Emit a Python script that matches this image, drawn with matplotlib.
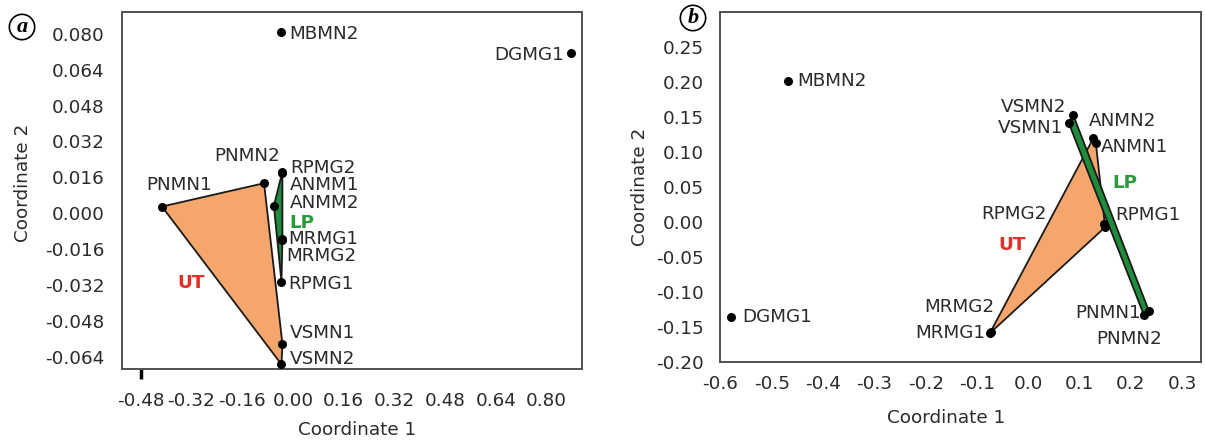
import numpy as np
import matplotlib
matplotlib.use('Agg')
import matplotlib.pyplot as plt
from matplotlib.patches import Polygon

plt.rcParams['font.family'] = ['DejaVu Sans']
plt.rcParams['axes.unicode_minus'] = False

# ---------------- data: panel a ----------------
a_names = ['MBMN2', 'DGMG1', 'PNMN1', 'PNMN2', 'RPMG2', 'ANMM1', 'ANMM2',
           'MRMG1', 'MRMG2', 'RPMG1', 'VSMN1', 'VSMN2']
a_x = [-0.039, 0.876, -0.413, -0.091, -0.033, -0.034, -0.060,
       -0.033, -0.034, -0.036, -0.033, -0.036]
a_y = [0.0806, 0.0713, 0.0030, 0.0134, 0.0185, 0.0180, 0.0033,
       -0.0116, -0.0120, -0.0305, -0.0582, -0.0673]
a_ut = ['PNMN1', 'PNMN2', 'VSMN1', 'VSMN2']
a_lp = ['RPMG2', 'ANMM1', 'ANMM2', 'MRMG1', 'MRMG2', 'RPMG1']
a_xticks = [-0.48, -0.32, -0.16, 0.00, 0.16, 0.32, 0.48, 0.64, 0.80]
a_yticks = [-0.064, -0.048, -0.032, -0.016, 0.000, 0.016, 0.032, 0.048, 0.064, 0.080]

# ---------------- data: panel b ----------------
b_names = ['MBMN2', 'DGMG1', 'VSMN2', 'VSMN1', 'ANMN2', 'ANMN1', 'RPMG2',
           'RPMG1', 'MRMG2', 'MRMG1', 'PNMN1', 'PNMN2']
b_x = [-0.468, -0.579, 0.088, 0.079, 0.127, 0.132, 0.147,
       0.150, -0.073, -0.074, 0.235, 0.226]
b_y = [0.201, -0.136, 0.152, 0.141, 0.119, 0.112, -0.004,
       -0.008, -0.157, -0.159, -0.127, -0.134]
b_ut = ['ANMN2', 'ANMN1', 'RPMG2', 'RPMG1', 'MRMG2', 'MRMG1']
b_lp = ['VSMN2', 'VSMN1', 'PNMN1', 'PNMN2']
b_xticks = [-0.6, -0.5, -0.4, -0.3, -0.2, -0.1, 0.0, 0.1, 0.2, 0.3]
b_yticks = [-0.20, -0.15, -0.10, -0.05, 0.00, 0.05, 0.10, 0.15, 0.20, 0.25]

# ---------------- label layout (pixel offsets, alignment) ----------------
a_lab = {
    'MBMN2': (9, -2, 'left'), 'DGMG1': (-6, -2, 'right'),
    'PNMN2': (16, 27, 'right'), 'PNMN1': (17, 22, 'center'),
    'RPMG2': (8, 4, 'left'), 'ANMM1': (8, -12, 'left'),
    'ANMM2': (16, 3, 'left'), 'MRMG1': (6, 0, 'left'),
    'MRMG2': (4, -16, 'left'), 'RPMG1': (7, -2, 'left'),
    'VSMN1': (7, 11, 'left'), 'VSMN2': (8, 5, 'left'),
}
b_lab = {
    'MBMN2': (9, 0, 'left'), 'DGMG1': (11, 0, 'left'),
    'VSMN2': (-7, 8, 'right'), 'VSMN1': (-5, -5, 'right'),
    'ANMN2': (-4, 17, 'left'), 'ANMN1': (5, -4, 'left'),
    'RPMG2': (-57, 10, 'right'), 'RPMG1': (10, 12, 'left'),
    'MRMG2': (4, 25, 'right'), 'MRMG1': (-5, 0, 'right'),
    'PNMN1': (-8, -2, 'right'), 'PNMN2': (-15, -24, 'center'),
}

ORANGE = '#f5a66c'
GREEN = '#1f8c3b'
TXT = '#2b2b2b'
FS = 13.2


def hull(pts):
    pts = sorted(set(map(tuple, pts)))
    if len(pts) < 3:
        return pts

    def cross(o, a, b):
        return (a[0] - o[0]) * (b[1] - o[1]) - (a[1] - o[1]) * (b[0] - o[0])
    lower, upper = [], []
    for p in pts:
        while len(lower) >= 2 and cross(lower[-2], lower[-1], p) <= 0:
            lower.pop()
        lower.append(p)
    for p in reversed(pts):
        while len(upper) >= 2 and cross(upper[-2], upper[-1], p) <= 0:
            upper.pop()
        upper.append(p)
    return lower[:-1] + upper[:-1]


def panel(ax, names, xs, ys, ut, lp, labs, xlim, ylim, xticks, yticks,
          xlabels, yfmt, xpad, ypad, ut_pos, lp_pos):
    pos = {n: (x, y) for n, x, y in zip(names, xs, ys)}
    ax.add_patch(Polygon(hull([pos[n] for n in ut]), closed=True,
                         facecolor=ORANGE, edgecolor='#1a1a1a', lw=1.3, zorder=2))
    ax.add_patch(Polygon(hull([pos[n] for n in lp]), closed=True,
                         facecolor=GREEN, edgecolor='#1a1a1a', lw=1.3, zorder=2))
    ax.scatter(xs, ys, s=42, color='black', zorder=4, linewidths=0)
    for n, x, y in zip(names, xs, ys):
        dx, dy, ha = labs[n]
        ax.annotate(n, (x, y), xytext=(dx, dy), textcoords='offset pixels',
                    ha=ha, va='center', fontsize=FS, color=TXT, zorder=5)
    ax.text(*ut_pos, 'UT', color='#e0302a', fontsize=FS, fontweight='bold',
            ha='center', va='center', zorder=5)
    ax.text(*lp_pos, 'LP', color='#2a9a3c', fontsize=FS, fontweight='bold',
            ha='center', va='center', zorder=5)
    ax.set_xlim(*xlim)
    ax.set_ylim(*ylim)
    ax.set_xticks(xticks)
    ax.set_yticks(yticks)
    ax.set_xticklabels(xlabels)
    ax.set_yticklabels([yfmt.format(v) for v in yticks])
    ax.tick_params(axis='x', length=0, pad=xpad, labelsize=FS, labelcolor=TXT)
    ax.tick_params(axis='y', length=0, pad=ypad, labelsize=FS, labelcolor=TXT)
    for s in ax.spines.values():
        s.set_color('#505050')
        s.set_linewidth(1.4)


def fmt(v, d):
    s = '{:.{d}f}'.format(v, d=d)
    return s.lstrip('-') if abs(v) < 1e-12 else s


fig = plt.figure(figsize=(12.05, 4.44), dpi=100)
axa = fig.add_axes([121.7 / 1205, 1 - 369.3 / 444, 460.6 / 1205, 357.6 / 444])
axb = fig.add_axes([720 / 1205, 1 - 362.3 / 444, 481 / 1205, 350 / 444])

panel(axa, a_names, a_x, a_y, a_ut, a_lp, a_lab,
      (-0.540, 0.913), (-0.0695, 0.0898), a_xticks, a_yticks,
      [fmt(v, 2) for v in a_xticks], '{:.3f}', 16, 12.5,
      (-0.322, -0.031), (0.027, -0.0045))
panel(axb, b_names, b_x, b_y, b_ut, b_lp, b_lab,
      (-0.601, 0.337), (-0.201, 0.299), b_xticks, b_yticks,
      [fmt(v, 1) for v in b_xticks], '{:.2f}', 9.5, 11.5,
      (-0.032, -0.033), (0.189, 0.055))

# the single visible tick mark in panel a at the first x tick
first_tick = axa.xaxis.get_major_ticks()[0]
first_tick.tick1line.set_markersize(7)
first_tick.tick1line.set_markeredgewidth(2.5)
first_tick.tick1line.set_color('#222222')

for ax, xl, yl in [(axa, (0.511, -0.17), (-0.214, 0.52)),
                   (axb, (0.47, -0.159), (-0.166, 0.5))]:
    ax.set_xlabel('Coordinate 1', fontsize=FS, color=TXT, va='center')
    ax.set_ylabel('Coordinate 2', fontsize=FS, color=TXT, va='center')
    ax.xaxis.set_label_coords(*xl)
    ax.yaxis.set_label_coords(*yl)

for (fx, fy), letter in [((22 / 1205, 1 - 27 / 444), 'a'), ((693 / 1205, 1 - 18 / 444), 'b')]:
    fig.text(fx, fy, letter, family='Liberation Serif', style='italic',
             fontweight='bold', fontsize=16, ha='center', va='center',
             bbox=dict(boxstyle='circle,pad=0.12', fc='white', ec='black', lw=1.2))

fig.savefig('out.png', dpi=100)
